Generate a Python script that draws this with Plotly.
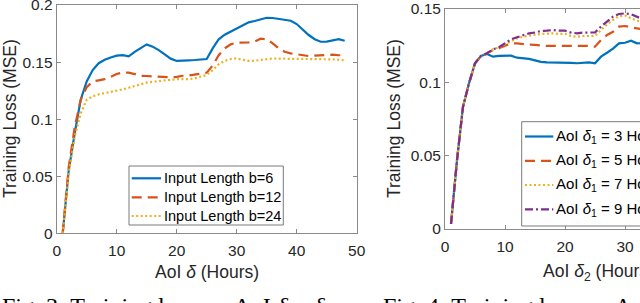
import plotly.graph_objects as go

# ---------------- Data: left panel (Fig. 3) ----------------
aoi_left = list(range(1, 49))
loss_b6 = [0.0, 0.055, 0.0876, 0.117, 0.133, 0.143, 0.149, 0.152, 0.154, 0.1556,
           0.156, 0.155, 0.159, 0.1626, 0.1655, 0.1635, 0.1605, 0.1567, 0.153, 0.151,
           0.151, 0.1515, 0.1518, 0.1524, 0.1527, 0.162, 0.170, 0.174, 0.1766, 0.1795,
           0.1824, 0.1848, 0.186, 0.1877, 0.1888, 0.1886, 0.1877, 0.1874, 0.1862, 0.1833,
           0.1786, 0.1737, 0.170, 0.1678, 0.168, 0.1687, 0.170, 0.1687]
loss_b12 = [0.0, 0.058, 0.093, 0.117, 0.128, 0.133, 0.134, 0.135, 0.137, 0.1395,
            0.141, 0.1407, 0.1395, 0.138, 0.1378, 0.1375, 0.137, 0.1366, 0.1366, 0.137,
            0.138, 0.1383, 0.139, 0.140, 0.1407, 0.147, 0.156, 0.162, 0.1655, 0.167,
            0.167, 0.1672, 0.168, 0.1705, 0.170, 0.1664, 0.162, 0.159, 0.1576, 0.1567,
            0.1556, 0.1553, 0.1556, 0.156, 0.1565, 0.1565, 0.156, 0.156]
loss_b24 = [0.0, 0.0525, 0.0846, 0.105, 0.117, 0.120, 0.1217, 0.1226, 0.1235, 0.125,
            0.126, 0.1275, 0.1293, 0.1308, 0.132, 0.1328, 0.1334, 0.1343, 0.135, 0.1351,
            0.1351, 0.135, 0.1357, 0.137, 0.1387, 0.143, 0.148, 0.151, 0.1527, 0.1532,
            0.1518, 0.151, 0.1512, 0.1518, 0.153, 0.1532, 0.153, 0.153, 0.1527, 0.1527,
            0.1524, 0.1524, 0.1527, 0.153, 0.1527, 0.1524, 0.152, 0.1515]

# ---------------- Data: right panel (Fig. 4) ----------------
aoi_right = list(range(1, 34))
loss_d3 = [0.0034, 0.047, 0.0834, 0.0993, 0.113, 0.118, 0.1193, 0.1175, 0.118, 0.118,
           0.1182, 0.1168, 0.1164, 0.116, 0.115, 0.114, 0.1136, 0.1136, 0.1136, 0.1134,
           0.1132, 0.113, 0.1134, 0.1136, 0.113, 0.1175, 0.1202, 0.123, 0.1266, 0.127,
           0.1284, 0.1266, 0.1267]
loss_d5 = [0.0034, 0.047, 0.0834, 0.0993, 0.113, 0.118, 0.1198, 0.122, 0.1232, 0.125,
           0.1266, 0.1266, 0.126, 0.1257, 0.1255, 0.125, 0.1248, 0.1248, 0.1248, 0.125,
           0.1248, 0.1248, 0.1248, 0.1248, 0.1243, 0.1289, 0.1323, 0.1345, 0.138, 0.1384,
           0.1375, 0.1368, 0.136]
loss_d7 = [0.0034, 0.047, 0.0834, 0.0993, 0.113, 0.118, 0.1198, 0.1225, 0.1239, 0.126,
           0.1284, 0.130, 0.1311, 0.132, 0.1325, 0.133, 0.1334, 0.1334, 0.133, 0.133,
           0.1316, 0.1311, 0.1316, 0.1316, 0.1316, 0.1357, 0.1395, 0.1425, 0.1452, 0.1455,
           0.144, 0.142, 0.1414]
loss_d9 = [0.0034, 0.047, 0.0834, 0.0993, 0.113, 0.118, 0.1198, 0.1225, 0.1239, 0.1264,
           0.1293, 0.1307, 0.1323, 0.1334, 0.134, 0.135, 0.1352, 0.1357, 0.1352, 0.1352,
           0.1339, 0.1334, 0.1339, 0.1339, 0.134, 0.138, 0.1414, 0.1448, 0.1466, 0.147,
           0.1464, 0.1448, 0.143]

left_names = ["Input Length b=6", "Input Length b=12", "Input Length b=24"]
right_names = ["AoI <i>δ</i><sub>1</sub> = 3 Hours", "AoI <i>δ</i><sub>1</sub> = 5 Hours",
               "AoI <i>δ</i><sub>1</sub> = 7 Hours", "AoI <i>δ</i><sub>1</sub> = 9 Hours"]

left_ticks_y = [0, 0.05, 0.1, 0.15, 0.2]
left_ticks_x = [0, 10, 20, 30, 40, 50]
right_ticks_y = [0, 0.05, 0.1, 0.15]
right_ticks_x = [0, 10, 20, 30, 40, 50]

colors = ["#0072BD", "#D95319", "#EDB120", "#7E2F8E"]
dashes = ["solid", "10px,6px", "2px,2.5px", "8px,3px,2px,3px"]

W, H = 640, 303
FONT = "Liberation Sans, Arial, sans-serif"
CAP = "Liberation Serif, Times New Roman, serif"
TXT = "#262626"
AX = "#8a8a8a"
LW = 2.2


def px_x(p):
    return p / W


def px_y(p):
    return (H - p) / H


fig = go.Figure()

for ys, name, c, d in zip([loss_b6, loss_b12, loss_b24], left_names, colors, dashes):
    fig.add_trace(go.Scatter(x=aoi_left, y=ys, mode="lines", name=name, showlegend=False,
                             line=dict(color=c, width=LW, dash=d),
                             xaxis="x", yaxis="y"))

for ys, name, c, d in zip([loss_d3, loss_d5, loss_d7, loss_d9], right_names, colors, dashes):
    fig.add_trace(go.Scatter(x=aoi_right, y=ys, mode="lines", name=name, showlegend=False,
                             line=dict(color=c, width=LW, dash=d),
                             xaxis="x2", yaxis="y2"))

axis_common = dict(showgrid=False, zeroline=False, showline=True, linecolor=AX,
                   linewidth=1, ticks="inside", ticklen=4, tickcolor=AX, automargin=False,
                   ticklabeloverflow="allow",
                   tickfont=dict(family=FONT, size=15.5, color=TXT))

fig.update_layout(
    width=W, height=H,
    margin=dict(l=0, r=0, t=0, b=0, pad=0, autoexpand=False),
    paper_bgcolor="white", plot_bgcolor="white",
    showlegend=False,
    xaxis=dict(domain=[px_x(56.7), px_x(356.7)], range=[0, 50], anchor="y",
               tickvals=left_ticks_x, mirror="ticks", ticklabelstandoff=3, **axis_common),
    yaxis=dict(domain=[px_y(233.3), px_y(5)], range=[0, 0.2], anchor="x",
               tickvals=left_ticks_y, mirror="ticks", **axis_common),
    xaxis2=dict(domain=[px_x(445), 1.0], range=[0, 32.5], anchor="y2",
                tickvals=right_ticks_x, mirror="ticks", ticklabelstandoff=3, **axis_common),
    yaxis2=dict(domain=[px_y(229), px_y(9)], range=[0, 0.15], anchor="x2",
                tickvals=right_ticks_y, mirror=False, **axis_common),
)

ann = []
shapes = []

# ---- legend boxes (drawn as boxes + key lines + real text) ----
def legend_box(x0, y0, x1, y1, rows, names, key_x0, key_x1, text_x, size):
    shapes.append(dict(type="rect", xref="paper", yref="paper",
                       x0=px_x(x0), x1=px_x(x1), y0=px_y(y1), y1=px_y(y0),
                       line=dict(color="#7a7a7a", width=1), fillcolor="white", layer="above"))
    for ry, nm, c, d in zip(rows, names, colors, dashes):
        shapes.append(dict(type="line", xref="paper", yref="paper",
                           x0=px_x(key_x0), x1=px_x(key_x1), y0=px_y(ry), y1=px_y(ry),
                           line=dict(color=c, width=LW, dash=d), layer="above"))
        ann.append(dict(text=nm, x=px_x(text_x), y=px_y(ry), xref="paper", yref="paper",
                        showarrow=False, xanchor="left", yanchor="middle",
                        font=dict(family=FONT, size=size, color="black")))

legend_box(129, 166, 283.3, 225, [178.3, 197.3, 216], left_names, 131.7, 161, 161.5, 14.5)
legend_box(521.7, 121.7, 700, 226, [136.5, 160.8, 185, 209.3], right_names, 525, 553.3, 554, 15)

# y-axis titles
ann.append(dict(text="Training Loss (MSE)", x=px_x(10), y=px_y(119), xref="paper", yref="paper",
                textangle=-90, showarrow=False, xanchor="center", yanchor="middle",
                font=dict(family=FONT, size=17.5, color=TXT)))
ann.append(dict(text="Training Loss (MSE)", x=px_x(394), y=px_y(119), xref="paper", yref="paper",
                textangle=-90, showarrow=False, xanchor="center", yanchor="middle",
                font=dict(family=FONT, size=17.5, color=TXT)))
# x-axis titles
ann.append(dict(text="AoI <i>δ</i> (Hours)", x=px_x(206.7), y=px_y(272), xref="paper", yref="paper",
                showarrow=False, xanchor="center", yanchor="middle",
                font=dict(family=FONT, size=17.5, color=TXT)))
ann.append(dict(text="AoI <i>δ</i><sub>2</sub> (Hours)", x=px_x(541), y=px_y(272), xref="paper", yref="paper",
                showarrow=False, xanchor="left", yanchor="middle",
                font=dict(family=FONT, size=17.5, color=TXT)))
# captions (cut off at the bottom edge, as in the source crop)
ann.append(dict(text="Fig. 3: Training loss vs. AoI <i>δ</i> = <i>δ</i>", x=0, y=px_y(290.5),
                xref="paper", yref="paper", showarrow=False, xanchor="left", yanchor="top",
                font=dict(family=CAP, size=24, color="black")))
ann.append(dict(text="Fig. 4: Training loss vs. AoI", x=px_x(381), y=px_y(290.5),
                xref="paper", yref="paper", showarrow=False, xanchor="left", yanchor="top",
                font=dict(family=CAP, size=24, color="black")))

fig.update_layout(annotations=ann, shapes=shapes)

fig.write_html(
    "out.html",
    config={"displayModeBar": False},
    post_script="document.body.style.margin='0';document.body.style.overflow='hidden';"
                "document.documentElement.style.overflow='hidden';",
)
